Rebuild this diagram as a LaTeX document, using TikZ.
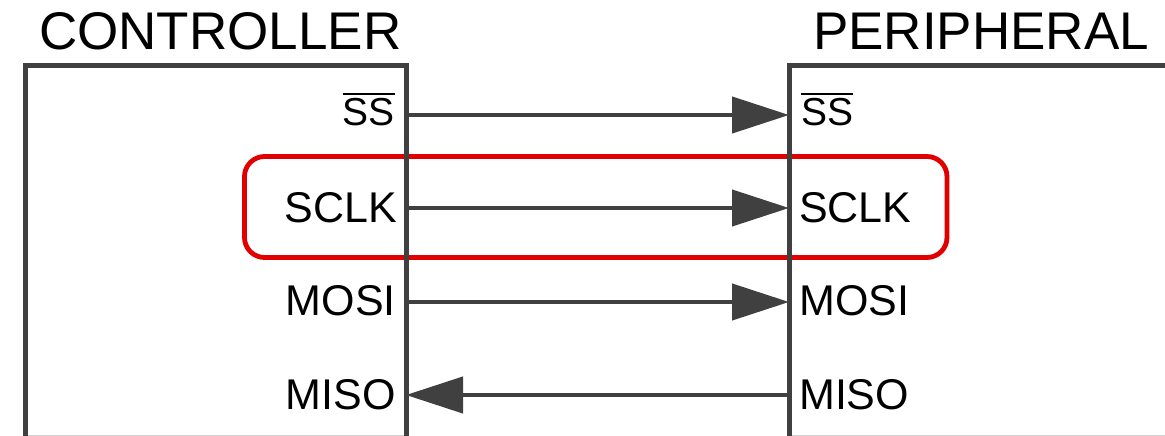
\documentclass[tikz,border=0pt]{standalone}
\usepackage{fontspec}
\setmainfont{Liberation Sans}
\usetikzlibrary{arrows.meta}
\definecolor{wire}{RGB}{64,64,64}
\definecolor{hl}{RGB}{224,0,0}
\newcommand{\barSS}{{\setbox0\hbox{SS}\rlap{\rule[\dimexpr\ht0+3pt\relax]{\wd0}{2.2pt}}\box0}}
\tikzset{
  boxline/.style={draw=wire, line width=5pt, line join=miter},
  sig/.style={draw=wire, line width=4.3pt, -{Triangle[length=57pt,width=36pt]}},
  lbl/.style={inner sep=0pt, font=\fontsize{43}{50}\selectfont},
  sslbl/.style={inner sep=0pt, font=\fontsize{39}{46}\selectfont},
  ttl/.style={inner sep=0pt, font=\fontsize{53}{60}\selectfont},
  hlbox/.style={draw=hl, line width=4.8pt, rounded corners=20pt}
}
\begin{document}
\begin{tikzpicture}[x=1pt,y=-1pt]
\useasboundingbox (0,0) rectangle (1165,436);
% highlight
\draw[hlbox] (244.5,156.5) rectangle (947,257.5);
% bottom faint edges
\draw[draw={rgb,255:red,210;green,210;blue,210}, line width=1.2pt] (27,435.4) -- (404,435.4);
\draw[draw={rgb,255:red,210;green,210;blue,210}, line width=1.2pt] (791,435.4) -- (1165,435.4);
% boxes
\draw[boxline] (25,437) -- (25,66) -- (406,66) -- (406,437);
\draw[boxline] (789,437) -- (789,66) -- (1170,66);
% titles
\node[ttl, anchor=base west] (tc) at (39,50) {CONTROLLER};
\node[ttl, anchor=base west] (tp) at (813,50) {PERIPHERAL};
% pin coordinates
\coordinate (c1) at (406,115);
\coordinate (c2) at (406,208);
\coordinate (c3) at (406,302);
\coordinate (c4) at (406,395);
\coordinate (p1) at (789,115);
\coordinate (p2) at (789,208);
\coordinate (p3) at (789,302);
\coordinate (p4) at (789,395);
% wires
\draw[sig] (c1) -- (p1);
\draw[sig] (c2) -- (p2);
\draw[sig] (c3) -- (p3);
\draw[sig] (p4) -- (c4);
% labels
\node[sslbl, anchor=base east] (lc1) at (395,125) {\barSS};
\node[lbl, anchor=base east] (lc2) at (397,222) {SCLK};
\node[lbl, anchor=base east] (lc3) at (396,315) {MOSI};
\node[lbl, anchor=base east] (lc4) at (396,409) {MISO};
\node[sslbl, anchor=base west] (lp1) at (801,125) {\barSS};
\node[lbl, anchor=base west] (lp2) at (799,222) {SCLK};
\node[lbl, anchor=base west] (lp3) at (799,315) {MOSI};
\node[lbl, anchor=base west] (lp4) at (799,409) {MISO};
\end{tikzpicture}
\end{document}
